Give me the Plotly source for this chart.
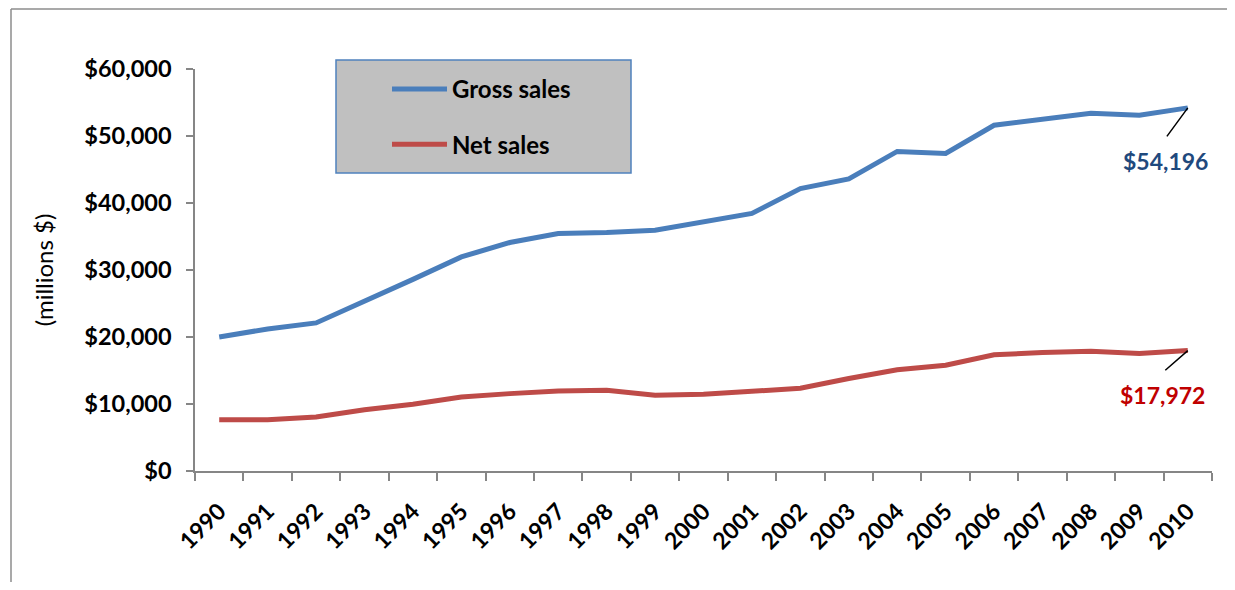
import plotly.graph_objects as go

years = [str(y) for y in range(1990, 2011)]
gross_sales = [20000, 21200, 22100, 25300, 28600, 31950, 34100, 35450, 35600, 35950,
               37250, 38450, 42150, 43600, 47700, 47400, 51600, 52550, 53400, 53100, 54196]
net_sales = [7660, 7660, 8050, 9150, 9950, 11050, 11550, 11940, 12040, 11300,
             11450, 11900, 12350, 13800, 15100, 15780, 17350, 17680, 17870, 17550, 17972]
y_ticks = [0, 10000, 20000, 30000, 40000, 50000, 60000]
y_tick_labels = ["$" + format(v, ",") for v in y_ticks]

FONT = "Lato"
OFF = 8  # page body margin
W, H = 1235 - 2 * OFF, 590 - 2 * OFF
# plot area in screen pixels
PX0, PX1, PY0, PY1 = 195, 1212, 69, 470.6
L, R, T, B = PX0 - OFF, (OFF + W) - PX1, PY0 - OFF, (OFF + H) - PY1
pw, ph = PX1 - PX0, PY1 - PY0

def sx(px):
    return (px - PX0) / pw

def sy(py):
    return (PY1 - py) / ph

last = len(years) - 1

fig = go.Figure()
fig.add_trace(go.Scatter(x=years, y=gross_sales, mode="lines", name="Gross sales",
                         line=dict(color="#4A7EBB", width=5), legendgroup="g"))
fig.add_trace(go.Scatter(x=years, y=net_sales, mode="lines", name="Net sales",
                         line=dict(color="#BE4B48", width=5), legendgroup="n"))

# outer chart border (top and left edges visible)
border = dict(color="#8C8C8C", width=1.5)
fig.add_shape(type="line", xref="paper", yref="paper",
              x0=sx(11), x1=sx(OFF + W), y0=sy(9), y1=sy(9), line=border, layer="below")
fig.add_shape(type="line", xref="paper", yref="paper",
              x0=sx(11), x1=sx(11), y0=sy(9), y1=sy(OFF + H), line=border, layer="below")
# legend box
fig.add_shape(type="rect", xref="paper", yref="paper",
              x0=sx(336), x1=sx(631), y0=sy(173), y1=sy(60),
              line=dict(color="#4F81BD", width=1.5), fillcolor="#C0C0C0", layer="below")

# end labels with leader lines
fig.add_annotation(x=last, y=gross_sales[-1], text="", showarrow=True, arrowhead=0,
                   arrowwidth=1.5, arrowcolor="black", ax=-22, ay=30, standoff=0)
fig.add_annotation(x=last, y=gross_sales[-1], text="$" + format(gross_sales[-1], ","),
                   showarrow=False, xshift=-22, yshift=-53,
                   font=dict(family=FONT, size=23, color="#1F497D", weight="bold"))
fig.add_annotation(x=last, y=net_sales[-1], text="", showarrow=True, arrowhead=0,
                   arrowwidth=1.5, arrowcolor="black", ax=-24, ay=21, standoff=0)
fig.add_annotation(x=last, y=net_sales[-1], text="$" + format(net_sales[-1], ","),
                   showarrow=False, xshift=-25, yshift=-44,
                   font=dict(family=FONT, size=23, color="#C00000", weight="bold"))

fig.update_layout(
    width=W, height=H,
    margin=dict(l=L, r=R, t=T, b=B, autoexpand=False),
    paper_bgcolor="white", plot_bgcolor="white",
    font=dict(family=FONT, color="black"),
    showlegend=True,
    legend=dict(x=sx(387), y=sy(67), xanchor="left", yanchor="top",
                bgcolor="rgba(0,0,0,0)", borderwidth=0, tracegroupgap=21,
                font=dict(family=FONT, size=24, color="black", weight="bold"),
                itemwidth=55),
    xaxis=dict(type="category", range=[-0.5, last + 0.5], showgrid=False, showline=True,
               linecolor="#868686", linewidth=1.5,
               ticks="outside", tickson="boundaries", ticklen=8, tickcolor="#868686", tickwidth=1.5,
               ticklabelstandoff=16,
               tickangle=-45, tickfont=dict(family=FONT, size=23, color="black", weight="bold")),
    yaxis=dict(range=[0, 60000], tickvals=y_ticks, ticktext=y_tick_labels, showgrid=False,
               showline=True, linecolor="#868686", linewidth=1.5, zeroline=False,
               ticks="outside", ticklen=7, tickcolor="#868686", tickwidth=1.5,
               ticklabelstandoff=10,
               tickfont=dict(family=FONT, size=23.5, color="black", weight="bold"),
               title=dict(text="(millions $)", font=dict(family=FONT, size=24, color="black"),
                          standoff=24)),
)

fig.write_html("out.html")
